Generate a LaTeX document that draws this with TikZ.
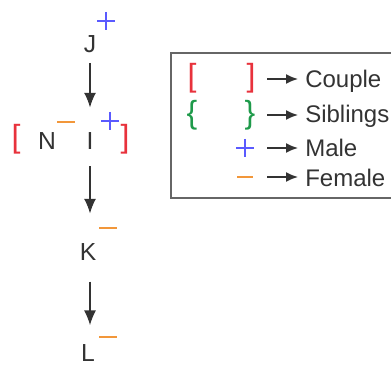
\documentclass[tikz,border=0pt]{standalone}
\usepackage{fontspec}
\setmainfont{Liberation Sans}
\usetikzlibrary{arrows.meta}
\definecolor{ink}{HTML}{333333}
\definecolor{cred}{HTML}{E8323C}
\definecolor{cgreen}{HTML}{1E9A4A}
\definecolor{cblue}{HTML}{5A5AFF}
\definecolor{corange}{HTML}{F2973A}
\tikzset{
  person/.style={inner sep=0, anchor=base, text=ink, font=\fontsize{18.5}{20}\selectfont},
  brk/.style={inner sep=0, anchor=base, font=\fontsize{24}{26}\selectfont},
  key/.style={inner sep=0, anchor=base west, text=ink, font=\fontsize{18}{20}\selectfont},
  male/.style={draw=cblue, line width=2.2pt},
  female/.style={draw=corange, line width=2.2pt},
  link/.style={draw=ink, line width=0.9pt, -{Latex[length=11pt,width=9pt]}},
  keyarrow/.style={draw=ink, line width=1.2pt, -{Latex[length=9pt,width=7.5pt]}}
}
\begin{document}
\begin{tikzpicture}[x=0.75pt, y=-0.75pt]
\useasboundingbox (0,0) rectangle (391,366);
% family line
\node[person] (J) at (90,53) {J};
\node[person] (I) at (90,150) {I};
\node[person] (N) at (47,150) {N};
\node[person] (K) at (88,260) {K};
\node[person] (L) at (88,361) {L};
\node[brk, text=cred] (cpl) at (16,148) {[};
\node[brk, text=cred] (cpr) at (125,148) {]};
\draw[link, shorten <=7pt, shorten >=19pt] (J.south) -- (I.north);
\draw[link, shorten <=12pt, shorten >=22pt] (I.south) -- (K.north -| I.south);
\draw[link, shorten <=16pt, shorten >=14pt] (K.south -| I.south) -- (L.north -| I.south);
% genders
\draw[male] (106,21) +(-9,0) -- +(9,0) +(0,-9) -- +(0,9);
\draw[male] (110,121) +(-9,0) -- +(9,0) +(0,-9) -- +(0,9);
\draw[female] (66,122) +(-9,0) -- +(9,0);
\draw[female] (108,228) +(-9,0) -- +(9,0);
\draw[female] (108,337) +(-9,0) -- +(9,0);
% legend
\draw[draw=black!60, line width=1pt] (171,53) rectangle (400,198);
\node[brk, text=cred] (lcl) at (192,87) {[};
\node[brk, text=cred] (lcr) at (251,87) {]};
\node[brk, text=cgreen] (lsl) at (192,124) {\{};
\node[brk, text=cgreen] (lsr) at (250,124) {\}};
\node[key] (couple) at (305,88) {Couple};
\node[key] (sibs) at (305,123) {Siblings};
\node[key] (male) at (305,157) {Male};
\node[key] (female) at (305,186) {Female};
\draw[male] (245,148) +(-9,0) -- +(9,0) +(0,-9) -- +(0,9);
\draw[female] (245,177) +(-8,0) -- +(8,0);
\draw[keyarrow] (267,79) -- (298,79);
\draw[keyarrow] (267,115) -- (298,115);
\draw[keyarrow] (267,148) -- (298,148);
\draw[keyarrow] (267,177) -- (298,177);
\end{tikzpicture}
\end{document}
